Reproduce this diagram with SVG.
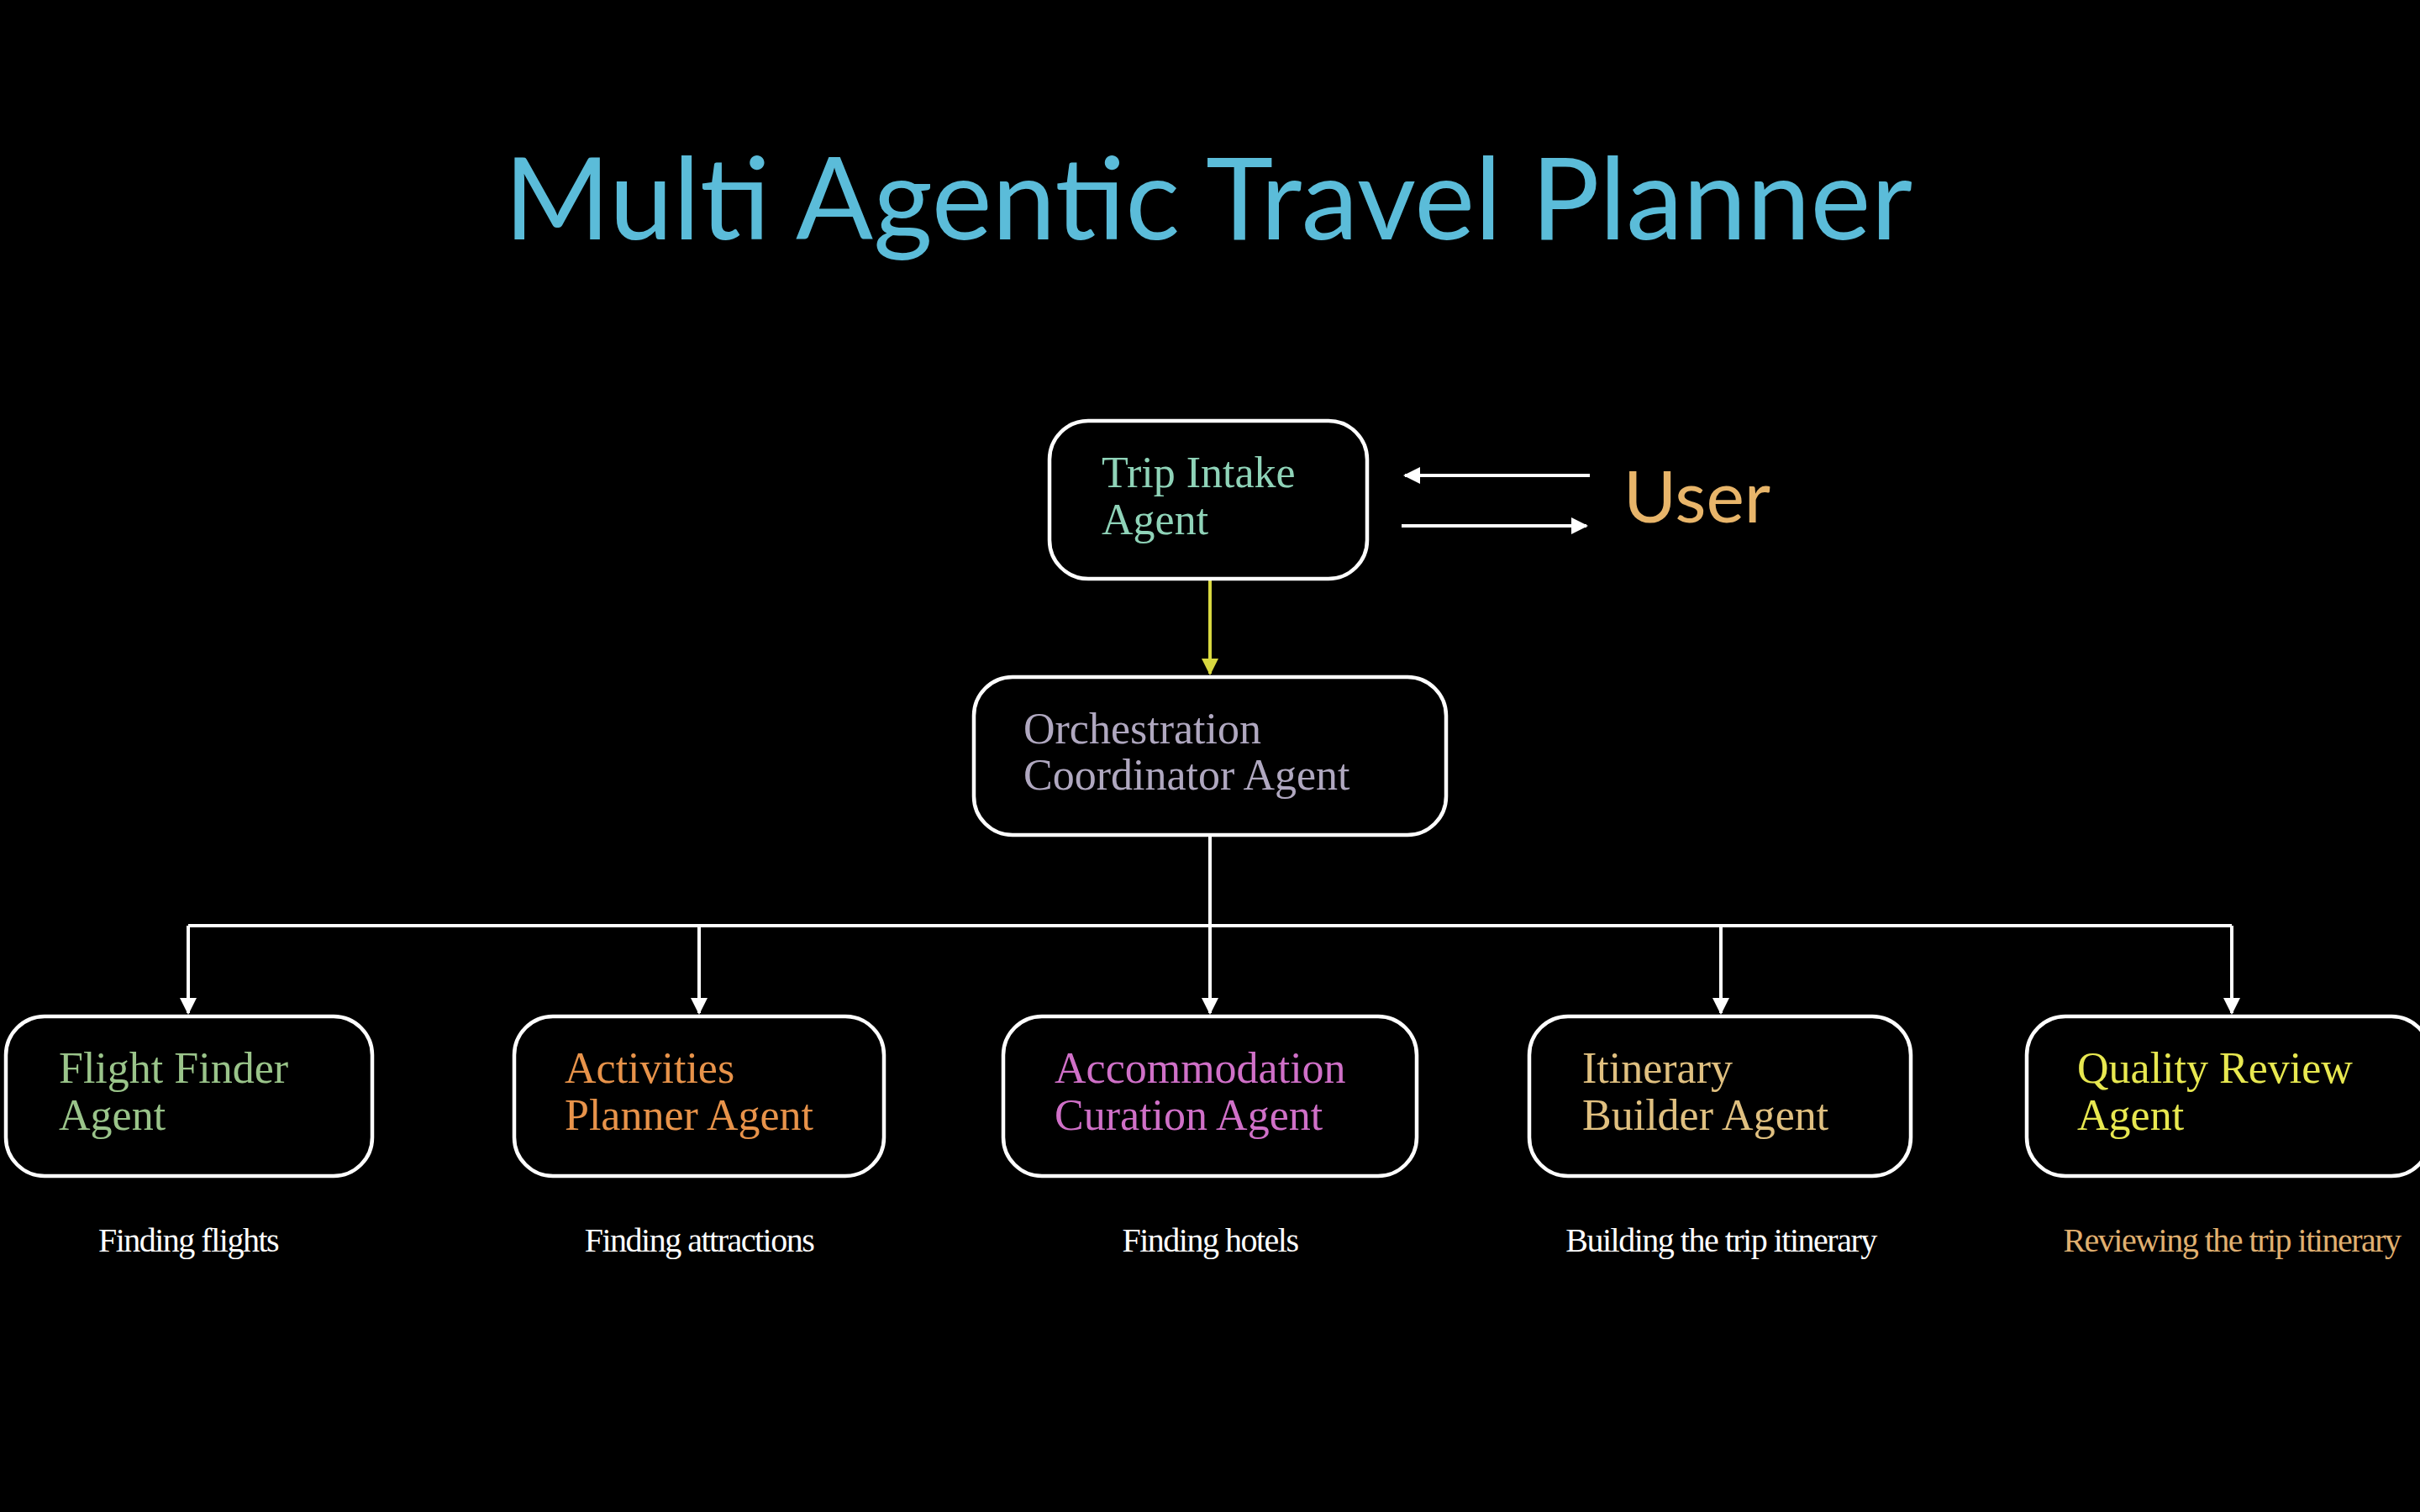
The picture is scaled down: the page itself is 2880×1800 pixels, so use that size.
<svg xmlns="http://www.w3.org/2000/svg" width="2880" height="1800" viewBox="0 0 2880 1800">
<defs>
<style>
.box{fill:#000;stroke:#fff;stroke-width:4.5}
.lbl{font-family:"Liberation Serif",serif;font-size:52px}
.cap{font-family:"Liberation Serif",serif;font-size:40px;fill:#fff;text-anchor:middle;letter-spacing:-1.5px}
.ln{stroke:#fff;stroke-width:4;fill:none}
</style>
<marker id="ah" viewBox="0 0 10 10" refX="9" refY="5" markerWidth="5" markerHeight="5" orient="auto"><path d="M0,0L10,5L0,10z" fill="#fff"/></marker>
<marker id="ahy" viewBox="0 0 10 10" refX="9" refY="5" markerWidth="5" markerHeight="5" orient="auto"><path d="M0,0L10,5L0,10z" fill="#d8d840"/></marker>
</defs>
<rect width="2880" height="1800" fill="#000"/>
<text x="1438" y="285" font-family="Lato,sans-serif" font-size="136" fill="#5bbcd9" text-anchor="middle">Multi Agentic Travel Planner</text>
<g id="connectors">
<path class="ln" d="M1892,566H1672" marker-end="url(#ah)"/>
<path class="ln" d="M1668,626H1888" marker-end="url(#ah)"/>
<path d="M1440,689V802" stroke="#d8d840" stroke-width="4" marker-end="url(#ahy)"/>
<path class="ln" d="M1440,994V1102M224,1102H2656"/>
<path class="ln" d="M224,1102V1206" marker-end="url(#ah)"/>
<path class="ln" d="M832,1102V1206" marker-end="url(#ah)"/>
<path class="ln" d="M1440,1102V1206" marker-end="url(#ah)"/>
<path class="ln" d="M2048,1102V1206" marker-end="url(#ah)"/>
<path class="ln" d="M2656,1102V1206" marker-end="url(#ah)"/>
</g>
<g id="trip"><rect class="box" x="1249" y="501" width="378" height="188" rx="46"/>
<text class="lbl" fill="#8fd3b8" x="1311" y="580">Trip Intake</text><text class="lbl" fill="#8fd3b8" x="1311" y="636">Agent</text></g>
<g id="user"><text x="1932" y="622" font-family="Lato,sans-serif" font-size="86" fill="#e8b56a">User</text></g>
<g id="orch"><rect class="box" x="1159" y="806" width="562" height="188" rx="46"/>
<text class="lbl" fill="#b0a8c0" x="1218" y="885">Orchestration</text><text class="lbl" fill="#b0a8c0" x="1218" y="940">Coordinator Agent</text></g>
<g id="flight"><rect class="box" x="7" y="1210" width="436" height="190" rx="46"/>
<text class="lbl" fill="#9ac48a" x="70" y="1289">Flight Finder</text><text class="lbl" fill="#9ac48a" x="70" y="1345">Agent</text>
<text class="cap" x="224" y="1490">Finding flights</text></g>
<g id="activities"><rect class="box" x="612" y="1210" width="440" height="190" rx="46"/>
<text class="lbl" fill="#e8934a" x="672" y="1289">Activities</text><text class="lbl" fill="#e8934a" x="672" y="1345">Planner Agent</text>
<text class="cap" x="832" y="1490">Finding attractions</text></g>
<g id="accom"><rect class="box" x="1194" y="1210" width="492" height="190" rx="46"/>
<text class="lbl" fill="#d070c8" x="1255" y="1289">Accommodation</text><text class="lbl" fill="#d070c8" x="1255" y="1345">Curation Agent</text>
<text class="cap" x="1440" y="1490">Finding hotels</text></g>
<g id="itin"><rect class="box" x="1820" y="1210" width="454" height="190" rx="46"/>
<text class="lbl" fill="#e0c080" x="1883" y="1289">Itinerary</text><text class="lbl" fill="#e0c080" x="1883" y="1345">Builder Agent</text>
<text class="cap" x="2048" y="1490">Building the trip itinerary</text></g>
<g id="quality"><rect class="box" x="2412" y="1210" width="480" height="190" rx="46"/>
<text class="lbl" fill="#e8e850" x="2472" y="1289">Quality Review</text><text class="lbl" fill="#e8e850" x="2472" y="1345">Agent</text>
<text class="cap" x="2656" y="1490" fill="#e0b070" style="fill:#e0b070">Reviewing the trip itinerary</text></g>
</svg>
